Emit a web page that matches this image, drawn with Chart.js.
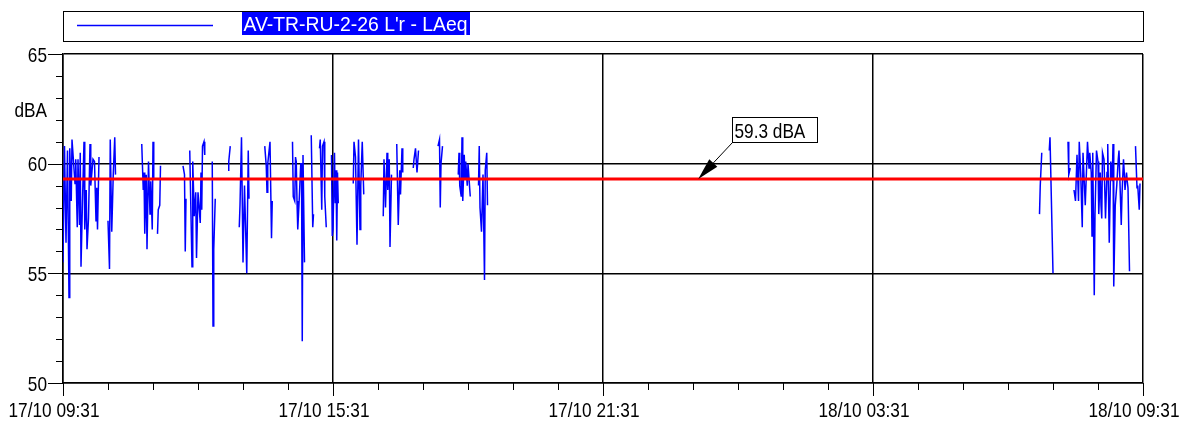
<!DOCTYPE html>
<html>
<head>
<meta charset="utf-8">
<script src="https://cdn.jsdelivr.net/npm/chart.js@4.4.1/dist/chart.umd.min.js"></script>
<style>
  html, body { margin: 0; padding: 0; background: #fff; overflow: hidden; }
  canvas { display: block; }
</style>
</head>
<body>
<canvas id="noise" width="1187" height="421"></canvas>
<script>
// Time axis: minutes after 17/10 09:31, one major label every 6 hours
const timeLabels = ['17/10 09:31', '17/10 15:31', '17/10 21:31', '18/10 03:31', '18/10 09:31'];
const majorStepMin = 360;
const minorStepMin = 60;
const yMin = 50, yMax = 65, yMajorStep = 5;
const yTickLabels = [50, 55, 60, 65];
const unitLabel = 'dBA';
const seriesName = "AV-TR-RU-2-26 L'r - LAeq";

// Average level over the whole period
const averageLevel = 59.3;
const averageText = '59.3 dBA';
const averageArrowMinute = 847;

// Measured LAeq; null marks a gap in the recording
const minutes = [
  0,2,4,6,8,9,11,12,16,17,19,20,22,23,24,26,28,29,31,32,34,36,37,40,42,44,45,46,48, 49,
  60,62,63,65,67,69,70, 71,
  105,107,108,109,111,112,114,116,117,119,120,121, 122,
  126,127,129,130, 131,
  160,162,163,164, 165,
  169,172,173,175,177,178,180,183,184,185,186,188,189, 190,
  199,200,201,203, 204,
  220,221,223, 224,
  235,236,238,240,242,245,247,248, 249,
  269,271,272,273,276,278,279, 280,
  306,307,309,310,311,312,313,315,317,318,319,320,322, 323,
  331,333,334, 335,
  342,343,345,346,348,349,351, 352,
  358,359,360,362,363,364,365,366,367, 368,
  387,388,390,392,394,396,397,399,401, 402,
  427,428,430,432,433,435,436,438, 439,
  445,447,449,450,452,453, 454,
  467,468,470,472,474, 475,
  500,502,503,504,506, 507,
  527,528,529,531,532,533,535,536,537,539,540,543, 544,
  554,555,556,558,560,562,563,565,566, 567,
  1302,1303,1305, 1306,
  1315,1316,1320, 1321,
  1340,1341,1343, 1344,
  1348,1350,1352,1354,1355,1357,1359,1360,1363,1366,1368,1369,1371,1372,1373,1375,1376,1378,1380,1381,
  1383,1384,1385,1386,1388,1390,1392,1393,1395,1397,1399,1400,1401,1403,1405,1407,1408,1411,1412,1414,
  1415,1416,1418,1419,1420,1422, 1423,
  1430,1432,1433,1435,1436
];
const levels = [
  55.5,60.8,56.4,60.6,53.9,60.7,58.3,61.1,59.1,60.2,57.1,60.2,57.2,60.5,55.3,58.3,61.0,57.0,58.8,56.1,57.5,60.9,59.0,60.2,60.1,57.4,58.9,57.0,60.3, null,
  57.4,55.2,61.1,56.9,59.5,61.2,59.5, null,
  60.9,58.8,59.6,56.8,59.5,56.1,60.1,57.7,59.2,57.0,61.0,59.3, null,
  56.8,57.9,58.1,59.9, null,
  59.9,59.5,56.0,58.4, null,
  60.6,55.3,60.1,57.6,58.7,55.7,58.7,57.3,59.6,57.9,60.8,61.0,60.4, null,
  60.1,52.6,56.1,58.4, null,
  59.7,60.1,60.8, null,
  57.1,58.1,61.2,55.5,59.0,55.0,60.6,58.4, null,
  60.8,59.9,58.7,60.0,61.0,56.6,58.3, null,
  61.0,58.5,58.3,60.3,60.1,58.3,57.0,58.4,60.0,60.0,51.9,60.4,55.5, null,
  61.3,57.1,57.7, null,
  60.7,61.1,57.9,60.8,61.0,58.5,57.1, null,
  60.4,56.7,57.0,60.5,58.2,59.7,56.5,59.6,58.2, null,
  59.1,61.0,60.3,56.3,61.1,57.0,59.0,61.0,58.6, null,
  57.6,60.2,58.0,60.5,58.8,60.2,56.2,59.5, null,
  60.9,57.2,59.7,58.6,60.7,59.6, null,
  59.8,60.2,60.7,59.6,60.6, null,
  60.8,61.1,58.0,60.0,60.8, null,
  59.5,60.5,59.0,58.5,61.2,58.3,60.4,59.3,60.1,59.0,60.0,58.5, null,
  59.0,60.8,58.0,56.9,59.5,54.7,59.7,60.5,58.1, null,
  57.7,59.0,60.5, null,
  60.6,61.2,55.0, null,
  61.0,59.5,59.8, null,
  58.8,58.3,60.4,58.3,61.0,59.5,57.1,60.5,58.1,61.0,59.8,60.5,59.6,56.7,60.5,54.0,57.7,60.6,60.1,57.7,
  59.6,58.1,57.5,60.5,60.2,57.5,59.6,60.9,56.4,60.1,59.2,60.9,54.4,58.1,59.0,60.2,60.6,57.2,58.6,60.2,
  59.6,58.8,59.6,59.2,58.9,55.1, null,
  60.8,58.9,59.0,57.9,59.1
];

const totalMinutes = majorStepMin * (timeLabels.length - 1);
const textFont = '"Liberation Sans", Arial, sans-serif';
const condense = 0.82;   // narrow lettering for axis and callout text

const points = minutes.map((m, i) => ({ x: m, y: levels[i] }));
const averagePoints = [{ x: 0, y: averageLevel }, { x: totalMinutes, y: averageLevel }];

function strokeLine(ctx, x1, y1, x2, y2) {
  ctx.beginPath();
  ctx.moveTo(x1, y1);
  ctx.lineTo(x2, y2);
  ctx.stroke();
}

// Draws horizontally condensed text; align is 'left' | 'center' | 'right'
function narrowText(ctx, text, x, baseline, align, scaleX) {
  const w = ctx.measureText(text).width * scaleX;
  const left = align === 'right' ? x - w : align === 'center' ? x - w / 2 : x;
  ctx.save();
  ctx.translate(left, baseline);
  ctx.scale(scaleX, 1);
  ctx.textAlign = 'left';
  ctx.textBaseline = 'alphabetic';
  ctx.fillText(text, 0, 0);
  ctx.restore();
}

const decorations = {
  id: 'decorations',
  afterDraw(chart) {
    const { ctx, chartArea: a, scales: { x, y } } = chart;
    ctx.save();
    ctx.strokeStyle = '#000';
    ctx.lineWidth = 1;

    // tick marks outside the plot
    for (let v = yMin; v <= yMax; v += 1) {
      const py = Math.round(y.getPixelForValue(v)) + 0.5;
      const len = v % yMajorStep === 0 ? 15 : 7;
      strokeLine(ctx, a.left - len, py, a.left, py);
    }
    for (let m = 0; m <= totalMinutes; m += minorStepMin) {
      const px = Math.round(x.getPixelForValue(m)) + 0.5;
      const len = m % majorStepMin === 0 ? 13 : 7;
      strokeLine(ctx, px, a.bottom, px, a.bottom + len);
    }

    // axis labels
    ctx.fillStyle = '#000';
    ctx.font = '21px ' + textFont;
    yTickLabels.forEach((v) => {
      narrowText(ctx, String(v), a.left - 16, y.getPixelForValue(v) + 7.5, 'right', condense);
    });
    narrowText(ctx, unitLabel, a.left - 16, y.getPixelForValue(62.45) + 7.5, 'right', condense);
    timeLabels.forEach((lab, i) => {
      narrowText(ctx, lab, x.getPixelForValue(i * majorStepMin) - 9, a.bottom + 33.5, 'center', condense);
    });

    // legend
    ctx.lineWidth = 1;
    ctx.strokeRect(a.left + 0.5, 11.5, a.right - a.left, 30);
    ctx.strokeStyle = '#0000ff';
    ctx.lineWidth = 1.5;
    strokeLine(ctx, a.left + 14, 25.5, a.left + 150, 25.5);
    ctx.font = '20px ' + textFont;
    const tw = ctx.measureText(seriesName).width;
    const targetW = 224;
    const hx = 242;
    ctx.fillStyle = '#0000ff';
    ctx.fillRect(hx, 12, targetW + 4, 23);
    ctx.fillStyle = '#fff';
    narrowText(ctx, seriesName, hx + 1.5, 31, 'left', targetW / tw);

    // average level callout with arrow
    const tipX = x.getPixelForValue(averageArrowMinute);
    const tipY = y.getPixelForValue(averageLevel);
    const boxL = Math.round(tipX + 34) + 0.5;
    const boxB = Math.round(tipY - 37) + 0.5;
    const boxW = 85, boxH = 25;
    ctx.fillStyle = '#fff';
    ctx.fillRect(boxL, boxB - boxH, boxW, boxH);
    ctx.strokeStyle = '#000';
    ctx.lineWidth = 1;
    ctx.strokeRect(boxL, boxB - boxH, boxW, boxH);
    ctx.fillStyle = '#000';
    ctx.font = '21px ' + textFont;
    narrowText(ctx, averageText, boxL + 2, boxB - 5, 'left', condense);

    const ang = Math.atan2(tipY - boxB, tipX - boxL);
    const headLen = 22, headHalf = 5.5;
    const baseX = tipX - headLen * Math.cos(ang), baseY = tipY - headLen * Math.sin(ang);
    strokeLine(ctx, boxL, boxB, baseX, baseY);
    ctx.beginPath();
    ctx.moveTo(tipX, tipY);
    ctx.lineTo(baseX + headHalf * Math.sin(ang), baseY - headHalf * Math.cos(ang));
    ctx.lineTo(baseX - headHalf * Math.sin(ang), baseY + headHalf * Math.cos(ang));
    ctx.closePath();
    ctx.fill();
    ctx.restore();
  }
};

new Chart(document.getElementById('noise'), {
  type: 'line',
  data: {
    datasets: [
      {
        label: seriesName,
        data: points,
        borderColor: '#0000ff',
        borderWidth: 1.5,
        pointRadius: 0,
        spanGaps: false,
        tension: 0,
        order: 1
      },
      {
        label: averageText,
        data: averagePoints,
        borderColor: '#ff0000',
        borderWidth: 3,
        pointRadius: 0,
        order: 0
      }
    ]
  },
  options: {
    responsive: false,
    animation: false,
    events: [],
    layout: { padding: { top: 54, right: 44, left: 0, bottom: 0 } },
    plugins: { legend: { display: false }, tooltip: { enabled: false } },
    scales: {
      x: {
        type: 'linear',
        min: 0,
        max: totalMinutes,
        afterFit(s) { s.height = 38; s.paddingLeft = 0; s.paddingRight = 0; },
        ticks: { stepSize: minorStepMin, autoSkip: false, maxRotation: 0, display: false },
        grid: {
          drawTicks: false,
          lineWidth: 1.5,
          color: (c) => (c.tick && c.tick.value % majorStepMin === 0 ? '#000' : 'rgba(0,0,0,0)')
        },
        border: { color: '#000', width: 1.5 }
      },
      y: {
        min: yMin,
        max: yMax,
        afterFit(s) { s.width = 63; s.paddingTop = 0; s.paddingBottom = 0; },
        ticks: { stepSize: 1, autoSkip: false, display: false },
        grid: {
          drawTicks: false,
          lineWidth: 1.5,
          color: (c) => (c.tick && c.tick.value % yMajorStep === 0 ? '#000' : 'rgba(0,0,0,0)')
        },
        border: { color: '#000', width: 1.5 }
      }
    }
  },
  plugins: [decorations]
});
</script>
</body>
</html>
